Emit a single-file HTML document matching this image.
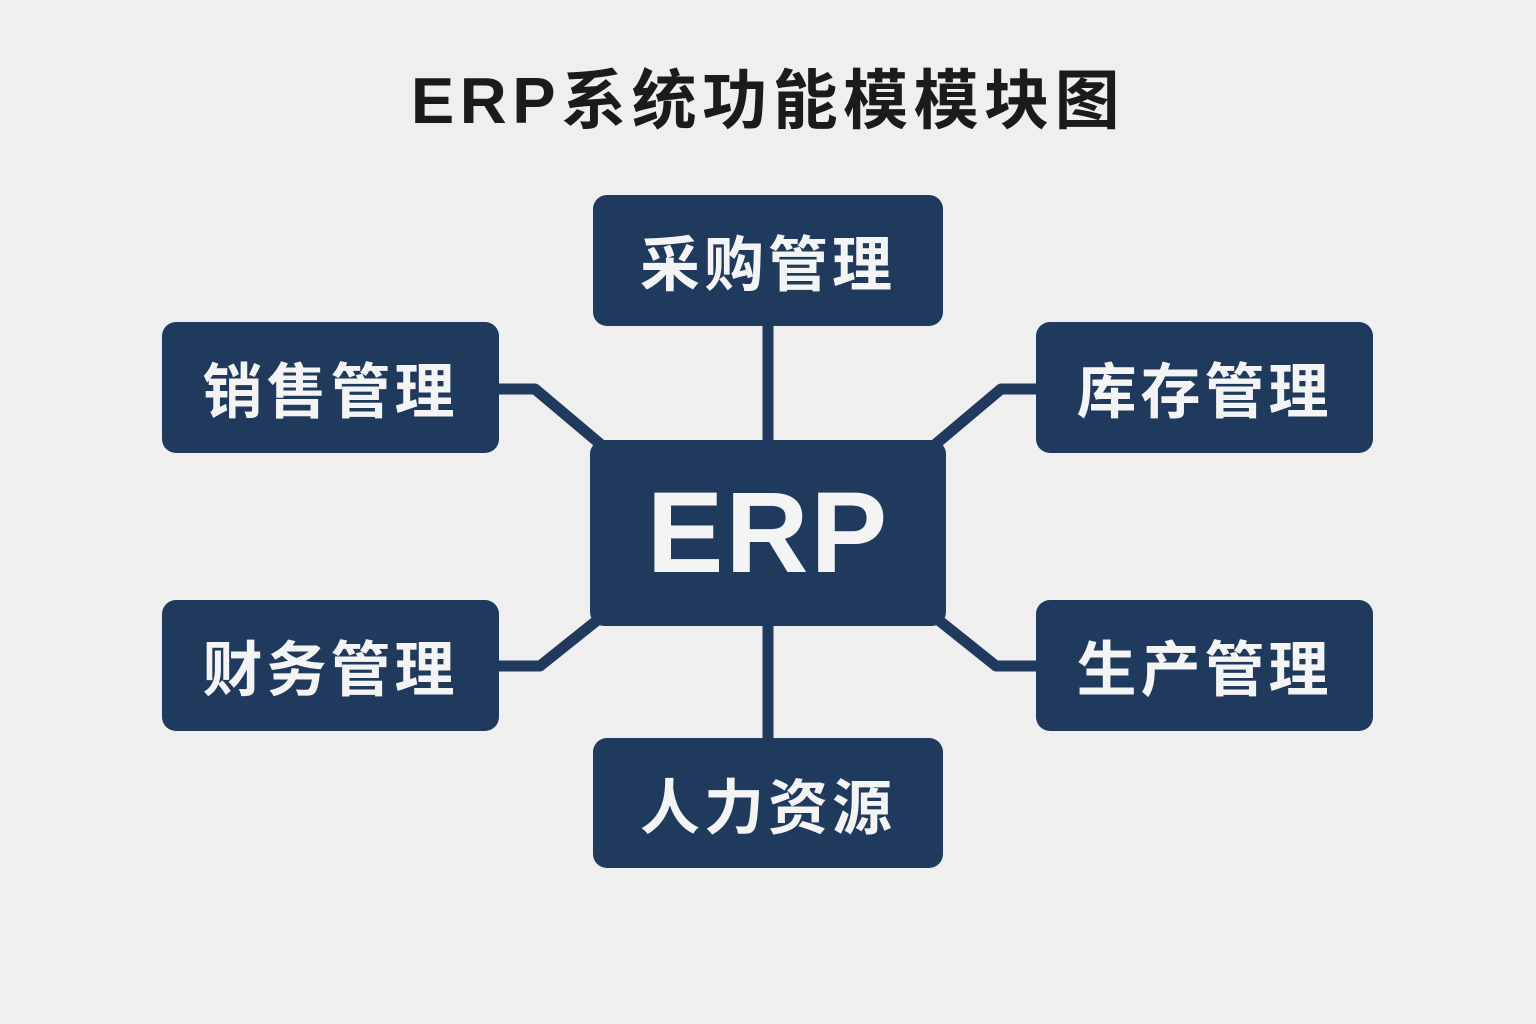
<!DOCTYPE html>
<html><head><meta charset="utf-8"><style>
body{margin:0;width:1536px;height:1024px;background:#efefef;position:relative;overflow:hidden;font-family:"Liberation Sans","Noto Sans CJK SC",sans-serif}
.t{position:absolute;left:0;width:1536px;top:61px;text-align:center;font-size:65px;font-weight:bold;color:#1b1b1b;letter-spacing:5.5px;line-height:80px}
.b{position:absolute;background:#1f3a5c;border-radius:14px;color:#f4f4f4;font-weight:bold;display:flex;align-items:center;justify-content:center;font-size:60px;letter-spacing:4px}
svg{position:absolute;left:0;top:0}
</style></head><body>
<div class="t">ERP系统功能模模块图</div>
<svg width="1536" height="1024"><g stroke="#1f3a5c" stroke-width="11" fill="none" stroke-linejoin="round">
<line x1="768" y1="320" x2="768" y2="445"/>
<line x1="768" y1="620" x2="768" y2="745"/>
<path d="M495 389 H535 L605 448"/>
<path d="M495 666 H540 L605 614"/>
<path d="M1041 389 H1001 L931 448"/>
<path d="M1041 666 H996 L931 614"/>
</g></svg>
<div class="b" style="left:593px;top:195px;width:350px;height:131px">采购管理</div>
<div class="b" style="left:162px;top:322px;width:337px;height:131px">销售管理</div>
<div class="b" style="left:1036px;top:322px;width:337px;height:131px">库存管理</div>
<div class="b" style="left:590px;top:440px;width:356px;height:186px;font-size:115px;letter-spacing:2px">ERP</div>
<div class="b" style="left:162px;top:600px;width:337px;height:131px">财务管理</div>
<div class="b" style="left:1036px;top:600px;width:337px;height:131px">生产管理</div>
<div class="b" style="left:593px;top:738px;width:350px;height:130px">人力资源</div>
</body></html>
